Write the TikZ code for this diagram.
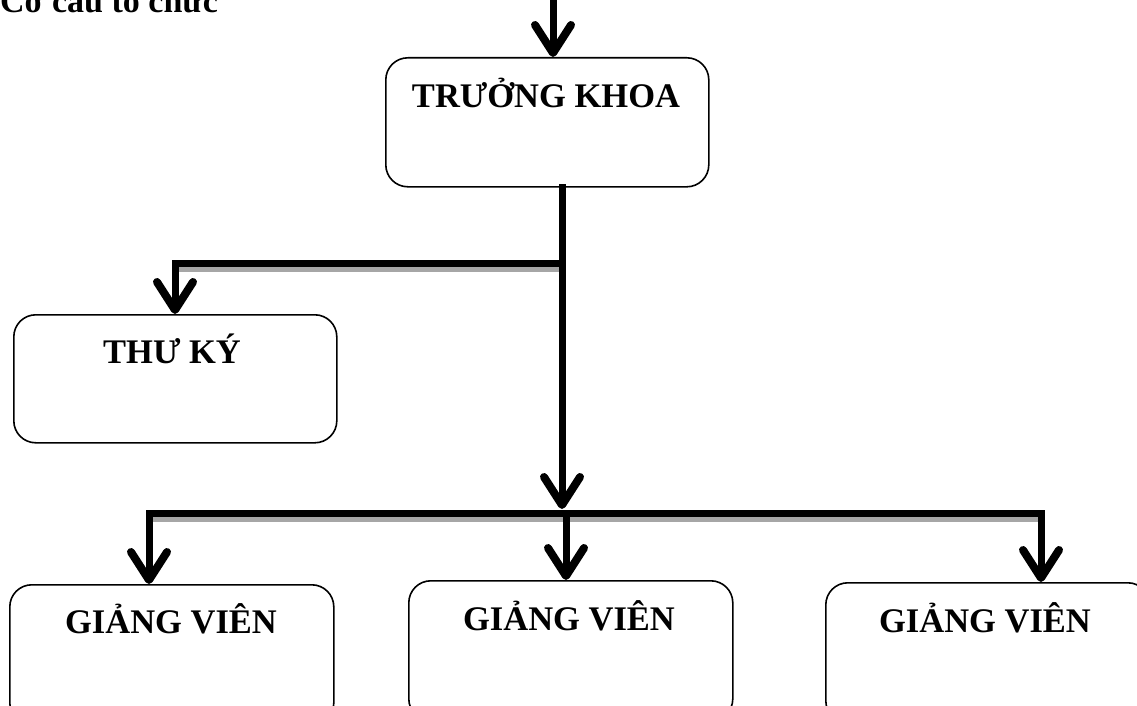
\documentclass[tikz,border=0pt]{standalone}
\usepackage{fontspec}
\setmainfont{Liberation Serif}
\usetikzlibrary{arrows.meta}
\definecolor{shadowgray}{HTML}{A6A6A6}
\tikzset{
  orgbox/.style={draw=black, line width=1.6pt, rounded corners=22pt, inner sep=0pt, anchor=north west},
  lbl/.style={font=\bfseries\fontsize{34.5}{42}\selectfont, anchor=base, inner sep=0pt},
  conn/.style={line width=7pt, draw=black, line cap=rect},
  shade/.style={line width=5pt, draw=shadowgray},
  arr/.style={line width=7pt, draw=black, -{Straight Barb[length=28pt, width=36pt, line width=8pt, round]}}
}
\begin{document}
\begin{tikzpicture}[x=1pt, y=-1pt]
\useasboundingbox (0,0) rectangle (1137,706);
\clip (0,0) rectangle (1137,706);
% title (cut off at top)
\node[font=\bfseries\fontsize{34}{40}\selectfont, anchor=base west, inner sep=0pt] (title) at (0,13) {Cơ cấu tổ chức};
% boxes
\node[orgbox, minimum width=323pt, minimum height=129pt] (tk) at (385,57) {};
\node[orgbox, minimum width=323pt, minimum height=128pt] (tky) at (13,314) {};
\node[orgbox, minimum width=324pt, minimum height=140pt] (gv1) at (9,584) {};
\node[orgbox, minimum width=324pt, minimum height=140pt] (gv2) at (408,580) {};
\node[orgbox, minimum width=324pt, minimum height=140pt] (gv3) at (825,582) {};
% labels
\node[lbl] (tkl) at (546,108) {TRƯỞNG KHOA};
\node[lbl] (tkyl) at (172,363) {THƯ KÝ};
\node[lbl] (gv1l) at (171,633) {GIẢNG VIÊN};
\node[lbl] (gv2l) at (569,630) {GIẢNG VIÊN};
\node[lbl] (gv3l) at (985,632) {GIẢNG VIÊN};
% junction coordinates
\coordinate (top) at (553,-10);
\coordinate (j1) at (562,263);
\coordinate (j1l) at (175,263);
\coordinate (j2) at (562,513);
\coordinate (j2l) at (149,513);
\coordinate (j2m) at (566,513);
\coordinate (j2r) at (1041,513);
% shadows
\draw[shade] ([yshift=-6.5pt,xshift=3pt]j1l) -- ([yshift=-6.5pt,xshift=-3pt]j1);
\draw[shade] ([yshift=-6pt,xshift=3pt]j2l) -- ([yshift=-6pt,xshift=-3pt]j2r);
% connectors
\draw[arr] (top) -- (tk.north -| top);
\draw[conn] (tk.south -| j1) -- (j1);
\draw[arr] (j1) -- ([yshift=4pt]j2);
\draw[conn] (j1) -- (j1l);
\draw[arr] (j1l) -- (tky.north -| j1l);
\draw[conn] (j2l) -- (j2r);
\draw[arr] (j2l) -- (gv1.north -| j2l);
\draw[arr] (j2m) -- (gv2.north -| j2m);
\draw[arr] (j2r) -- (gv3.north -| j2r);
\end{tikzpicture}
\end{document}
